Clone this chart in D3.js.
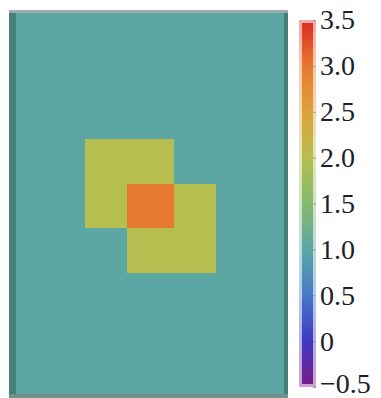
<!DOCTYPE html>
<html><head><meta charset="utf-8">
<script src="https://cdn.jsdelivr.net/npm/d3@7"></script>
<style>html,body{margin:0;padding:0;background:#fff;overflow:hidden}</style>
</head><body>
<svg id="c" width="381" height="398"></svg>
<script>
// ---- data ----
const xEdges = [0, 1.7, 2.65, 3.7, 4.65, 6.27];
const yEdges = [0, 2.9, 3.9, 4.9, 5.9, 8.67];
const values = [
  [1, 1, 1, 1, 1],
  [1, 2, 2, 1, 1],
  [1, 2, 3, 2, 1],
  [1, 1, 2, 2, 1],
  [1, 1, 1, 1, 1]
];
const colorDomain = [-0.5, 0, 0.5, 1.0, 1.5, 2.0, 2.5, 3.0, 3.5];
const colorRange = ["#781c86", "#3f38c2", "#4679c8", "#5ca6a3", "#86b96c", "#b6be4f", "#dda23b", "#e77831", "#db2a24"];
const tickValues = [3.5, 3.0, 2.5, 2.0, 1.5, 1.0, 0.5, 0, -0.5];
const tickLabels = ["3.5", "3.0", "2.5", "2.0", "1.5", "1.0", "0.5", "0", "\u22120.5"];

// ---- chart ----
const svg = d3.select("#c");
const x = d3.scaleLinear().domain([0, 6.27]).range([9, 288]);
const y = d3.scaleLinear().domain([0, 8.67]).range([10, 396]);
const color = d3.scaleLinear().domain(colorDomain).range(colorRange);

const cells = [];
values.forEach((row, i) => row.forEach((v, j) => cells.push({i, j, v})));
svg.append("g").selectAll("rect").data(cells).join("rect")
  .attr("x", d => x(xEdges[d.j]))
  .attr("y", d => y(yEdges[d.i]))
  .attr("width", d => x(xEdges[d.j + 1]) - x(xEdges[d.j]))
  .attr("height", d => y(yEdges[d.i + 1]) - y(yEdges[d.i]))
  .attr("fill", d => color(d.v))
  .attr("shape-rendering", "crispEdges");

// frame strips
const fr = svg.append("g").attr("shape-rendering", "crispEdges");
fr.append("rect").attr("x", 9).attr("y", 10).attr("width", 7).attr("height", 388).attr("fill", "#467f7a");
fr.append("rect").attr("x", 284).attr("y", 10).attr("width", 4).attr("height", 388).attr("fill", "#467f7a");
fr.append("rect").attr("x", 9).attr("y", 10).attr("width", 279).attr("height", 3).attr("fill", "#9eaba9");
fr.append("rect").attr("x", 9).attr("y", 394).attr("width", 279).attr("height", 4).attr("fill", "#6f918e");

// colorbar
const cb = d3.scaleLinear().domain([-0.5, 3.5]).range([387, 20]);
const defs = svg.append("defs");
const grad = defs.append("linearGradient").attr("id", "g").attr("x1", 0).attr("y1", 1).attr("x2", 0).attr("y2", 0);
colorDomain.forEach((d, i) => grad.append("stop").attr("offset", (d + 0.5) / 4).attr("stop-color", colorRange[i]));
svg.append("rect").attr("x", 299).attr("y", cb(3.5)).attr("width", 17).attr("height", cb(-0.5) - cb(3.5))
  .attr("fill", "url(#g)");
svg.append("rect").attr("x", 300.5).attr("y", cb(3.5) + 1.5).attr("width", 14).attr("height", cb(-0.5) - cb(3.5) - 3)
  .attr("fill", "none").attr("stroke", "#fff").attr("stroke-opacity", 0.6).attr("stroke-width", 3);

const ax = svg.append("g").attr("transform", "translate(316,0)")
  .call(d3.axisRight(cb).tickValues(tickValues).tickFormat((d, i) => tickLabels[i]).tickSize(-3).tickPadding(4));
ax.select(".domain").remove();
ax.selectAll(".tick line").attr("stroke", "#999");
ax.selectAll("text").attr("font-family", "'Liberation Serif', 'Times New Roman', serif").attr("font-size", 28).attr("fill", "#1e1e2a");
ax.selectAll("text").filter(d => d === -0.5).attr("dy", "0.18em");
</script>
</body></html>
